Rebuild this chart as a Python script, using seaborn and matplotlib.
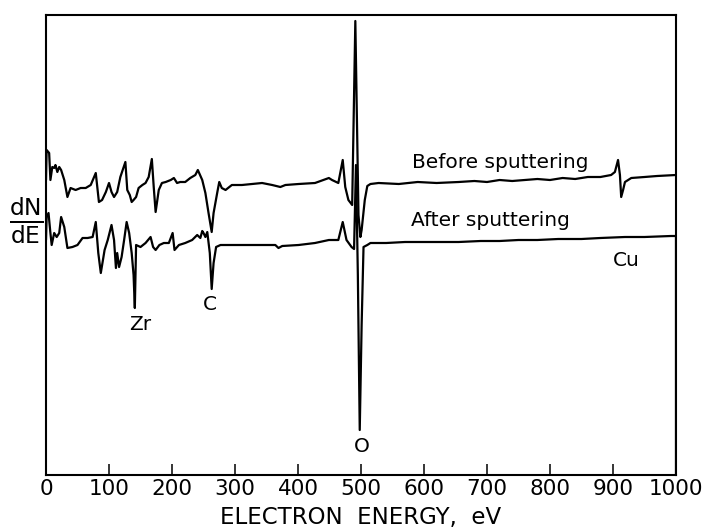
import numpy as np
import pandas as pd
import matplotlib
matplotlib.use("Agg")
import matplotlib.pyplot as plt
import seaborn as sns

# ---- data (energy in eV, dN/dE in arbitrary units) ----
before_ev = [0, 1, 5, 7, 10, 13, 15, 18, 21, 24, 29, 34, 39, 47, 55, 63, 71, 79, 84, 89,
             95, 100, 104, 108, 113, 118, 126, 129, 133, 136, 139, 143, 147, 153, 158, 163,
             168, 171, 174, 179, 184, 190, 198, 203, 208, 213, 221, 229, 237, 241, 248, 253,
             258, 263, 266, 272, 275, 279, 285, 295, 311, 327, 343, 359, 372, 380, 401, 427,
             449, 454, 464, 471, 475, 480, 486, 491, 496, 499, 501, 506, 510, 515, 528, 560,
             590, 620, 655, 680, 700, 720, 740, 760, 780, 800, 820, 840, 860, 880, 897, 903,
             908, 911, 913, 916, 919, 929, 950, 970, 1000]
before_y = [295, 325, 322, 295, 308, 307, 310, 303, 308, 305, 295, 278, 287, 285, 287, 287, 290, 302, 273, 275,
            283, 292, 283, 278, 283, 298, 313, 285, 280, 273, 275, 278, 287, 290, 292, 298,
            316, 288, 263, 285, 292, 293, 295, 297, 292, 293, 293, 297, 300, 305, 295, 282,
            262, 243, 262, 283, 293, 287, 285, 290, 290, 291, 292, 290, 288, 290, 291, 292,
            297, 295, 292, 315, 288, 275, 270, 454, 260, 238, 245, 275, 289, 291, 292, 291,
            293, 292, 293, 294, 293, 295, 294, 295, 296, 295, 297, 296, 298, 298, 300, 303,
            315, 300, 278, 285, 293, 297, 298, 299, 300]

after_ev = [0, 1, 4, 7, 9, 13, 17, 21, 24, 29, 34, 42, 50, 58, 66, 74, 79, 83, 87, 93,
            98, 104, 108, 111, 113, 116, 120, 124, 128, 132, 136, 139, 141, 143, 150, 158,
            166, 170, 174, 180, 187, 195, 201, 204, 211, 221, 232, 240, 245, 248, 250, 253,
            256, 260, 263, 266, 270, 277, 290, 311, 338, 364, 369, 375, 401, 427, 449, 464,
            471, 477, 485, 489, 492, 495, 498, 501, 504, 510, 515, 540, 570, 600, 630, 655,
            690, 720, 750, 780, 813, 850, 880, 919, 950, 992, 1000, 1000]
after_y = [235, 258, 262, 242, 230, 242, 238, 242, 258, 248, 227, 228, 230, 237, 237, 238, 253, 222, 202, 225,
           235, 250, 235, 207, 222, 208, 218, 235, 253, 242, 222, 200, 167, 230, 228, 232,
           238, 228, 225, 230, 232, 232, 242, 225, 230, 232, 235, 240, 237, 244, 242, 238,
           243, 222, 186, 212, 228, 230, 230, 230, 230, 230, 227, 229, 230, 232, 235, 235,
           253, 235, 228, 226, 310, 200, 45, 150, 228, 230, 232, 232, 233, 233, 233, 233,
           234, 234, 235, 235, 236, 236, 237, 238, 238, 239, 239, 0]

tick_values = [0, 100, 200, 300, 400, 500, 600, 700, 800, 900, 1000]
tick_labels = ["0", "100", "200", "300", "400", "500", "600", "700", "800", "900", "1000"]

peak_labels = ["Zr", "C", "O", "Cu"]
peak_label_x = [149, 260, 502, 921]
peak_label_y = [150, 170, 28, 214]

series_labels = ["Before sputtering", "After sputtering"]
series_label_x = [721, 705]
series_label_y = [313, 254]

# ---- plotting ----
sns.set_style("white")
plt.rcParams["font.family"] = ["DejaVu Sans"]
plt.rcParams["text.color"] = "black"
plt.rcParams["axes.labelcolor"] = "black"

fig = plt.figure(figsize=(7.12, 5.32), dpi=100)
ax = fig.add_axes([46 / 712, 1 - 475 / 532, (676 - 46) / 712, (475 - 15) / 532])

df_b = pd.DataFrame({"E": before_ev, "y": before_y})
df_a = pd.DataFrame({"E": after_ev, "y": after_y})
sns.lineplot(data=df_b, x="E", y="y", ax=ax, color="black", lw=1.6, sort=False, estimator=None)
sns.lineplot(data=df_a, x="E", y="y", ax=ax, color="black", lw=1.6, sort=False, estimator=None)

ax.set_xlim(0, 1000)
ax.set_ylim(0, 460)
ax.set_xticks(tick_values)
ax.set_xticklabels(tick_labels, fontsize=15.5)
ax.set_yticks([])
ax.tick_params(axis="x", bottom=True, direction="in", length=8, width=1.1, pad=3,
               colors="black", labelcolor="black")
ax.set_xlabel("ELECTRON  ENERGY,  eV", fontsize=16.5, labelpad=5)
ax.set_ylabel("")
for s in ax.spines.values():
    s.set_color("black")
    s.set_linewidth(1.5)

for t, x, y in zip(series_labels, series_label_x, series_label_y):
    ax.text(x, y, t, ha="center", va="center", fontsize=14.5)
for t, x, y in zip(peak_labels, peak_label_x, peak_label_y):
    ax.text(x, y, t, ha="center", va="center", fontsize=14.5)

fig.text(26 / 712, 1 - 221 / 532, r"$\frac{\mathsf{dN}}{\mathsf{dE}}$", ha="center", va="center", fontsize=24)

fig.savefig("out.png", dpi=100)
